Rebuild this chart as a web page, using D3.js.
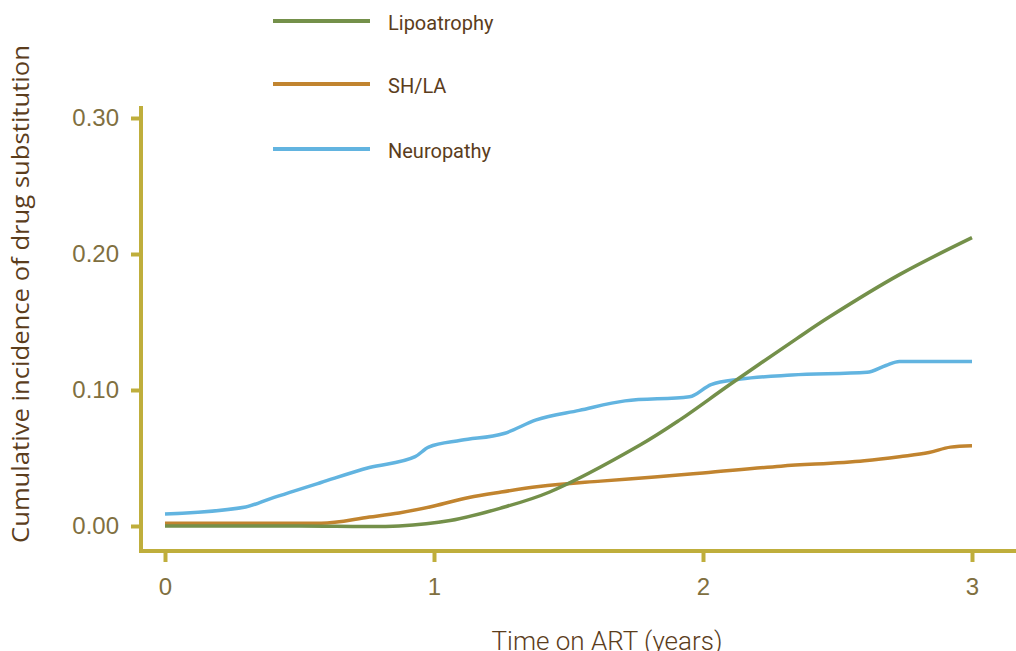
<!DOCTYPE html>
<html lang="en">
<head>
    <meta charset="utf-8">
    <script src="https://d3js.org/d3.v7.min.js"></script>
    <style>
        body { margin: 0; background: #fff; }
        svg { display: block; font-family: Roboto, "Open Sans", sans-serif; }
    </style>
</head>
<body>
<script>
    // data (years on ART, cumulative incidence)
    const lipoX = [0, 0.5, 0.87, 1.06, 1.245, 1.43, 1.766, 1.914, 2.1, 2.35, 2.472, 2.732, 3.0];
    const lipoY = [0, 0, 0, 0.004, 0.013, 0.025, 0.0595, 0.078, 0.104, 0.138, 0.154, 0.185, 0.212];

    const shlaX = [0, 0.3, 0.58, 0.76, 0.87, 1.0, 1.13, 1.25, 1.39, 1.62, 1.82, 2.0, 2.29, 2.6, 2.73, 2.84, 2.92, 3.0];
    const shlaY = [0.002, 0.002, 0.002, 0.0066, 0.0096, 0.0147, 0.021, 0.025, 0.029, 0.033, 0.036, 0.039, 0.044, 0.048, 0.051, 0.054, 0.058, 0.059];

    const neuroX = [0, 0.30, 0.39, 0.58, 0.76, 0.93, 0.98, 1.10, 1.26, 1.38, 1.54, 1.71, 1.95, 2.03, 2.14, 2.33, 2.61, 2.68, 2.73, 3.0];
    const neuroY = [0.0088, 0.014, 0.020, 0.032, 0.043, 0.051, 0.058, 0.063, 0.068, 0.078, 0.085, 0.092, 0.095, 0.104, 0.108, 0.111, 0.113, 0.118, 0.121, 0.121];

    const seriesNames = ["Lipoatrophy", "SH/LA", "Neuropathy"];
    const seriesColors = ["#74904a", "#c1842f", "#62b4e0"];
    const yTicks = [0, 0.1, 0.2, 0.3];
    const xTicks = [0, 1, 2, 3];

    const width = 1016, height = 651;
    const axisColor = "#bfae3c";

    const svg = d3.select("body").append("svg")
        .attr("width", width)
        .attr("height", height);

    const x = d3.scaleLinear().domain([0, 3]).range([165, 972]);
    const y = d3.scaleLinear().domain([0, 0.3]).range([526, 118]);

    // y axis
    const yAxis = svg.append("g")
        .attr("transform", "translate(141,0)")
        .call(d3.axisLeft(y).tickValues(yTicks).tickFormat(d3.format(".2f")).tickSize(10).tickPadding(12));
    yAxis.select(".domain").remove();
    yAxis.append("line")
        .attr("x1", 0).attr("x2", 0).attr("y1", 106).attr("y2", 553)
        .attr("stroke", axisColor).attr("stroke-width", 4);

    // x axis
    const xAxis = svg.append("g")
        .attr("transform", "translate(0,551)")
        .call(d3.axisBottom(x).tickValues(xTicks).tickFormat(d3.format("d")).tickSize(11).tickPadding(16));
    xAxis.select(".domain").remove();
    xAxis.append("line")
        .attr("x1", 139).attr("x2", width).attr("y1", 0).attr("y2", 0)
        .attr("stroke", axisColor).attr("stroke-width", 4);

    svg.selectAll(".tick line").attr("stroke", axisColor).attr("stroke-width", 4);
    svg.selectAll(".tick text")
        .attr("fill", "#806f40")
        .style("font-size", "24px")
        .style("font-weight", 300);

    // lines
    const lineGen = d3.line()
        .x(d => x(d[0]))
        .y(d => y(d[1]))
        .curve(d3.curveMonotoneX);

    const smoothGen = d3.line()
        .x(d => x(d[0]))
        .y(d => y(d[1]))
        .curve(d3.curveCatmullRom.alpha(0.5));

    const allSeries = [
        d3.zip(lipoX, lipoY),
        d3.zip(shlaX, shlaY),
        d3.zip(neuroX, neuroY)
    ];

    // draw in order: neuropathy, SH/LA, lipoatrophy on top
    [2, 1, 0].forEach(i => {
        svg.append("path")
            .datum(allSeries[i])
            .attr("fill", "none")
            .attr("stroke", seriesColors[i])
            .attr("stroke-width", 3.5)
            .attr("d", i === 0 ? smoothGen : lineGen);
    });

    // legend
    const legend = svg.selectAll(".legend")
        .data(seriesNames)
        .enter()
        .append("g")
        .attr("class", "legend")
        .attr("transform", (d, i) => "translate(273," + [21, 84, 149][i] + ")");

    legend.append("line")
        .attr("x1", 0).attr("x2", 97)
        .attr("stroke", (d, i) => seriesColors[i])
        .attr("stroke-width", 4);

    legend.append("text")
        .attr("x", 115)
        .attr("y", 3)
        .attr("dy", "0.32em")
        .attr("fill", "#5b3d1c")
        .style("font-size", "20px")
        .text(d => d);

    // axis titles
    svg.append("text")
        .attr("x", 607)
        .attr("y", 650)
        .attr("text-anchor", "middle")
        .attr("fill", "#5b3d1c")
        .style("font-size", "26px")
        .style("font-weight", 300)
        .text("Time on ART (years)");

    svg.append("text")
        .attr("transform", "translate(29,294) rotate(-90)")
        .attr("text-anchor", "middle")
        .attr("fill", "#5b3d1c")
        .style("font-family", "'Open Sans', sans-serif")
        .style("font-size", "23px")
        .attr("textLength", 498)
        .attr("lengthAdjust", "spacingAndGlyphs")
        .text("Cumulative incidence of drug substitution");
</script>
</body>
</html>
